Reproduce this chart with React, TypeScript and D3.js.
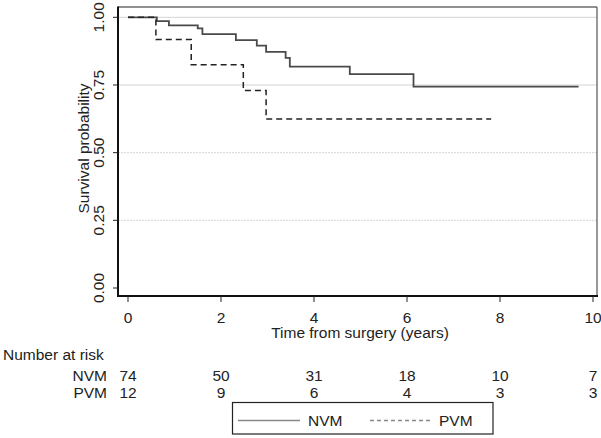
import React from "react";
import * as d3 from "d3";

const nvmTimes = [0, 0.62, 0.88, 1.5, 1.6, 2.32, 2.77, 2.97, 3.39, 3.48, 4.77, 6.14, 9.69];
const nvmSurv = [1, 0.986, 0.97, 0.959, 0.938, 0.916, 0.895, 0.872, 0.85, 0.818, 0.79, 0.744, 0.744];
const pvmTimes = [0, 0.6, 1.36, 2.48, 2.97, 7.81];
const pvmSurv = [1, 0.918, 0.825, 0.73, 0.624, 0.624];

const xTicks = [0, 2, 4, 6, 8, 10];
const yTicks = [0, 0.25, 0.5, 0.75, 1];
const yTickLabels = ["0.00", "0.25", "0.50", "0.75", "1.00"];
const nvmAtRisk = [74, 50, 31, 18, 10, 7];
const pvmAtRisk = [12, 9, 6, 4, 3, 3];

const W = 601;
const H = 438;
const FONT = "'Liberation Sans', Arial, sans-serif";
const FS = 15.5;

export default function App() {
  const x = d3.scaleLinear().domain([0, 10]).range([128, 593]);
  const y = d3.scaleLinear().domain([0, 1]).range([288, 17.3]);
  const left = 118, right = 597, top = 7, bottom = 296;

  const line = d3
    .line<[number, number]>()
    .x((d) => x(d[0]))
    .y((d) => y(d[1]))
    .curve(d3.curveStepAfter);

  const nvm = nvmTimes.map((t, i) => [t, nvmSurv[i]] as [number, number]);
  const pvm = pvmTimes.map((t, i) => [t, pvmSurv[i]] as [number, number]);

  return (
    <svg
      width={W}
      height={H}
      style={{ position: "absolute", left: 0, top: 0, background: "#fff" }}
      fontFamily={FONT}
    >
      {/* grid */}
      {yTicks.filter((v) => v > 0).map((v) => (
        <line
          key={v}
          x1={left}
          x2={right}
          y1={y(v)}
          y2={y(v)}
          stroke="#d4d4d4"
          strokeWidth={1}
          strokeDasharray={v < 0.7 ? "2,1" : undefined}
        />
      ))}
      {/* frame */}
      <line x1={left} x2={right} y1={top} y2={top} stroke="#222" strokeWidth={1.2} />
      <line x1={right} x2={right} y1={top} y2={bottom} stroke="#555" strokeWidth={1.2} />
      <line x1={left} x2={left} y1={top - 0.5} y2={bottom + 1} stroke="#111" strokeWidth={2} />
      <line x1={left - 1} x2={right + 1} y1={bottom} y2={bottom} stroke="#111" strokeWidth={2} />

      {/* y ticks */}
      {yTicks.map((v, i) => (
        <g key={v}>
          <line x1={left - 5} x2={left} y1={y(v)} y2={y(v)} stroke="#222" strokeWidth={1} />
          <text
            transform={`translate(104,${y(v)}) rotate(-90)`}
            textAnchor="middle"
            fontSize={FS}
            fill="#222"
          >
            {yTickLabels[i]}
          </text>
        </g>
      ))}
      <text
        transform={`translate(89,${(top + bottom) / 2 - 3}) rotate(-90)`}
        textAnchor="middle"
        fontSize={FS}
        fill="#222"
      >
        Survival probability
      </text>

      {/* x ticks */}
      {xTicks.map((v) => (
        <g key={v}>
          <line x1={x(v)} x2={x(v)} y1={bottom} y2={bottom + 6} stroke="#222" strokeWidth={1} />
          <text x={x(v)} y={322.5} textAnchor="middle" fontSize={FS} fill="#222">
            {v}
          </text>
        </g>
      ))}
      <text x={360} y={338} textAnchor="middle" fontSize={FS} fill="#222">
        Time from surgery (years)
      </text>

      {/* curves */}
      <path d={line(nvm) || ""} fill="none" stroke="#4a4a4a" strokeWidth={1.8} />
      <path
        d={line(pvm) || ""}
        fill="none"
        stroke="#222"
        strokeWidth={1.5}
        strokeDasharray="6,4"
      />

      {/* number at risk */}
      <text x={3} y={360} fontSize={FS} fill="#222">
        Number at risk
      </text>
      <text x={107} y={381} textAnchor="end" fontSize={FS} fill="#222">
        NVM
      </text>
      <text x={107} y={398} textAnchor="end" fontSize={FS} fill="#222">
        PVM
      </text>
      {xTicks.map((v, i) => (
        <g key={"r" + v}>
          <text x={x(v)} y={381} textAnchor="middle" fontSize={FS} fill="#222">
            {nvmAtRisk[i]}
          </text>
          <text x={x(v)} y={398} textAnchor="middle" fontSize={FS} fill="#222">
            {pvmAtRisk[i]}
          </text>
        </g>
      ))}

      {/* legend */}
      <rect x={232.5} y={402.5} width={260.5} height={31.5} fill="#fff" stroke="#222" strokeWidth={1.2} />
      <line x1={238} x2={300} y1={420.5} y2={420.5} stroke="#888" strokeWidth={1.5} />
      <text x={308} y={426} fontSize={FS} fill="#222">
        NVM
      </text>
      <line x1={370} x2={430} y1={420.5} y2={420.5} stroke="#888" strokeWidth={1.5} strokeDasharray="4,3" />
      <text x={439} y={426} fontSize={FS} fill="#222">
        PVM
      </text>
    </svg>
  );
}
